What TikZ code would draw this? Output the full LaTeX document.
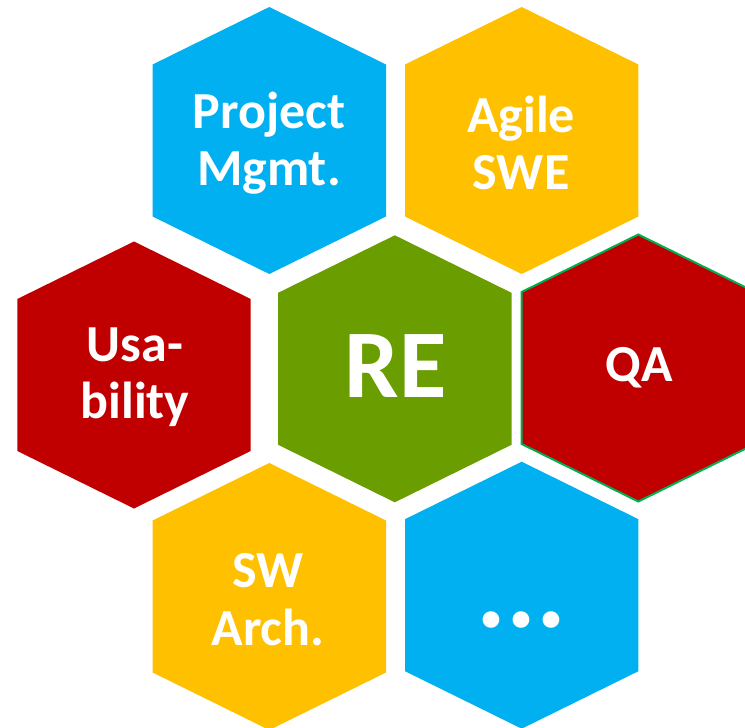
\documentclass[tikz,border=0pt]{standalone}
\usepackage{fontspec}
\setmainfont{Carlito}
\definecolor{hexblue}{HTML}{00B0F0}
\definecolor{hexyellow}{HTML}{FFC000}
\definecolor{hexred}{HTML}{C00000}
\definecolor{hexgreen}{HTML}{6A9E00}
\definecolor{qaline}{HTML}{00B050}
% one honeycomb cell around a named centre
\newcommand\hexcell[2]{%
  \fill[#2, shift={(#1)}] (0,-133.5) -- (116.7,-76) -- (116.7,76)
    -- (0,133.5) -- (-116.7,76) -- (-116.7,-76) -- cycle;}

\begin{document}
\begin{tikzpicture}[
    x=1pt, y=-1pt,
    lbl/.style={text=white, align=center, inner sep=0pt,
        font=\bfseries\fontsize{52}{57.5}\selectfont},
    biglbl/.style={lbl, font=\bfseries\fontsize{97}{100}\selectfont}
    ]
\useasboundingbox (0,0) rectangle (745,728);
\clip (0,0) rectangle (745,728);

%centres of the cells
\coordinate (pm) at (269.3,140.5);
\coordinate (agile) at (521.7,140.5);
\coordinate (usab) at (134,375);
\coordinate (re) at (394.8,368.8);
\coordinate (qa) at (638.3,368);
\coordinate (arch) at (269.3,596.5);
\coordinate (more) at (521.7,595.2);

%top row
\hexcell{pm}{hexblue}
\hexcell{agile}{hexyellow}
%middle row
\hexcell{usab}{hexred}
\hexcell{re}{hexgreen}
\hexcell{qa}{hexred}
\draw[qaline, line width=2pt, shift={(qa)}] (0,-133.5) -- (116.7,-76) -- (116.7,76)
    -- (0,133.5) -- (-116.7,76) -- (-116.7,-76) -- cycle;
%bottom row
\hexcell{arch}{hexyellow}
\hexcell{more}{hexblue}

\node[lbl] (pmtext) at (269,143) {Project\\Mgmt.};
\node[lbl] (agiletext) at (521,143) {Agile\\SWE};
\node[lbl] (usabtext) at (135,377) {Usa-\\bility};
\node[biglbl] (retext) at (395.8,366) {RE};
\node[lbl] (qatext) at (639.5,367.5) {QA};
\node[lbl] (archtext) at (268,599.5) {SW\\Arch.};
\node[lbl, anchor=base, font=\bfseries\fontsize{112}{112}\selectfont]
    (moretext) at (521.5,627) {...};
\end{tikzpicture}
\end{document}
